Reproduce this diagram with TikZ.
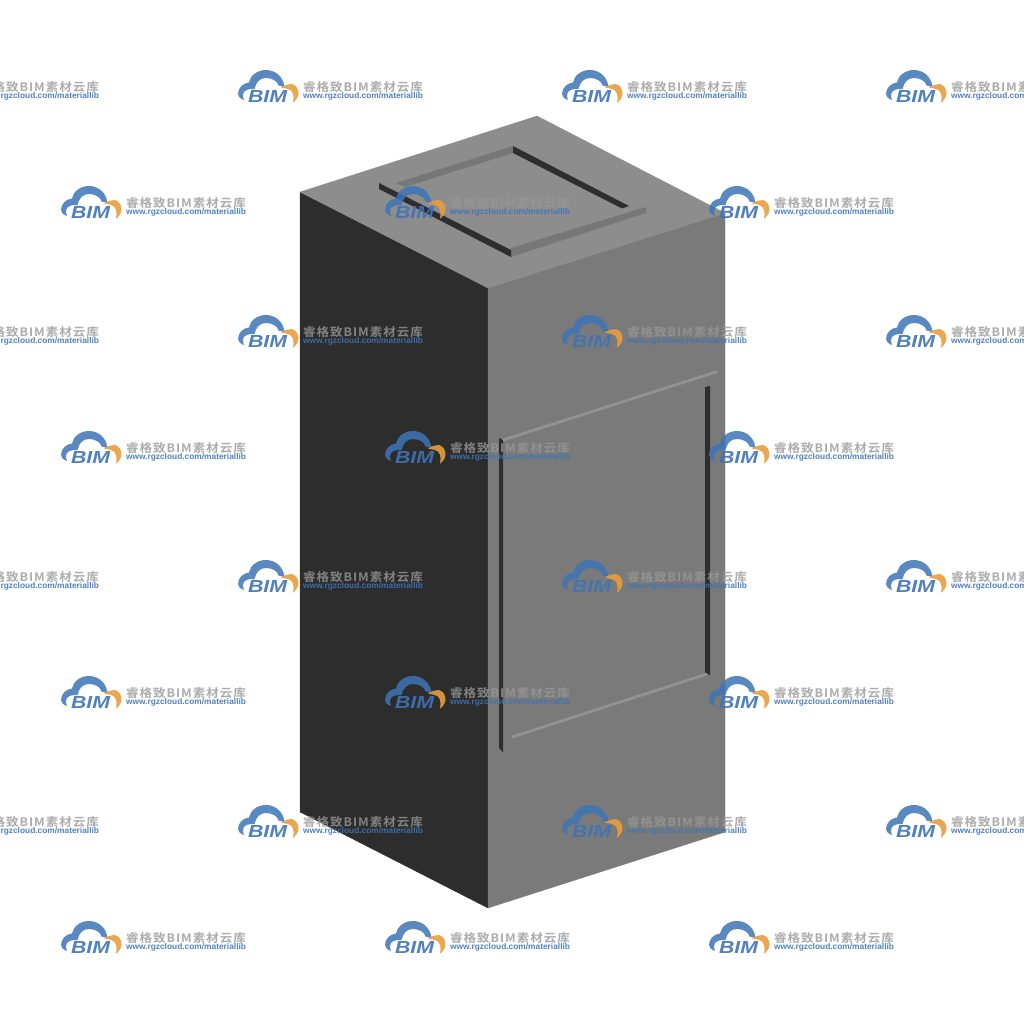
\documentclass[tikz,border=0pt]{standalone}
\usepackage{graphicx}
\usepackage{fontspec}
\setmainfont{Liberation Sans}
\newfontfamily\wmcjk{Noto Sans CJK SC Bold}[LetterSpace=8]
\definecolor{topface}{RGB}{141,141,141}
\definecolor{rightface}{RGB}{122,122,122}
\definecolor{leftface}{RGB}{45,45,45}
\definecolor{slit}{RGB}{46,46,46}
\definecolor{band}{RGB}{119,119,119}
\definecolor{ridge}{RGB}{146,146,146}
\definecolor{wmblue}{RGB}{62,116,182}
\definecolor{wmorange}{RGB}{232,158,62}
\definecolor{wmgray}{RGB}{152,152,152}
\tikzset{
  face/.style={line width=.3pt,line join=round},
  wmtext/.style={anchor=base west,inner sep=0pt,outer sep=0pt,text opacity=.8,text=wmgray},
  wmurl/.style={anchor=base west,inner sep=0pt,outer sep=0pt,text opacity=.9,text=wmblue,font=\bfseries},
  wmbim/.style={anchor=base west,inner sep=0pt,outer sep=0pt,text opacity=.9,text=wmblue,font=\bfseries\itshape},
  wm/.pic={
    \fill[wmblue,fill opacity=.85] (6,30) .. controls (2,28.5) and (0,26.5) .. (0,24)
      .. controls (0,18) and (5,13) .. (11,12.5)
      .. controls (12,6) and (19,0) .. (27.7,0)
      .. controls (36,0) and (45,5) .. (46.5,17)
      .. controls (44.5,16.5) and (42.5,16) .. (40.5,15.5)
      .. controls (39.5,11) and (34,8) .. (28,8)
      .. controls (22,8) and (18,12) .. (16.5,19)
      .. controls (11,18.5) and (5,20) .. (5,25)
      .. controls (5,27) and (5.5,28.5) .. (6,30) -- cycle;
    \fill[wmorange,fill opacity=.9] (43,17.5) .. controls (47,15) and (50,14) .. (53.7,14)
      .. controls (58,15) and (60.5,19) .. (60.5,23.3)
      .. controls (60.5,27) and (58,30.5) .. (55,32.7)
      .. controls (55.5,29) and (56,26) .. (55,23.5)
      .. controls (54,21) and (52,19.5) .. (50,19)
      .. controls (48,18.5) and (45,18) .. (43,17.5) -- cycle;
    \node[wmbim] (-bim) at (10,32.7) {\resizebox{39pt}{12pt}{BIM}};
    \node[wmtext] (-name) at (65,21.5) {\resizebox{120pt}{10pt}{\wmcjk 睿格致BIM素材云库}};
    \node[wmurl] (-url) at (65,28.5) {\resizebox{120pt}{6pt}{www.rgzcloud.com/materiallib}};
  }
}
\begin{document}
\begin{tikzpicture}[x=1pt,y=-1pt]
\clip (0,0) rectangle (1024,1024);
\fill[white] (0,0) rectangle (1024,1024);
% faces
\fill[leftface,draw=leftface,face] (300,192) -- (488,288) -- (488,908) -- (300,812) -- cycle;
\fill[rightface,draw=rightface,face] (488,288) -- (725,213) -- (725,832) -- (488,908) -- cycle;
\fill[topface,draw=topface,face] (300,192) -- (537,116) -- (725,213) -- (488,288) -- cycle;
% top recess
\fill[band] (396,183) -- (513,146) -- (513,153) -- (405,187) -- cycle;
\fill[band] (511,248) -- (646,207) -- (646,213) -- (511,257) -- cycle;
\fill[slit] (379,183) -- (511,250) -- (511,257) -- (379,189) -- cycle;
\fill[slit] (513,146) -- (629,206) -- (622,208.5) -- (513,153) -- cycle;
% front panel
\fill[slit] (499,438) -- (503,440) -- (503,752) -- (499,748) -- cycle;
\fill[slit] (705,387) -- (710,386) -- (710,675) -- (705,673) -- cycle;
\draw[ridge,line width=2.8pt] (503,440) -- (717.5,371.5);
\draw[ridge,line width=2.8pt] (512,737) -- (707,674);
% watermark
\foreach \y in {70,315,560,805}
  \foreach \x in {-86,238,562,886}
    \pic (a\x y\y) at (\x,\y) {wm};
\foreach \y in {186,431,676,921}
  \foreach \x in {61,385,709}
    \pic (b\x y\y) at (\x,\y) {wm};
\end{tikzpicture}
\end{document}
